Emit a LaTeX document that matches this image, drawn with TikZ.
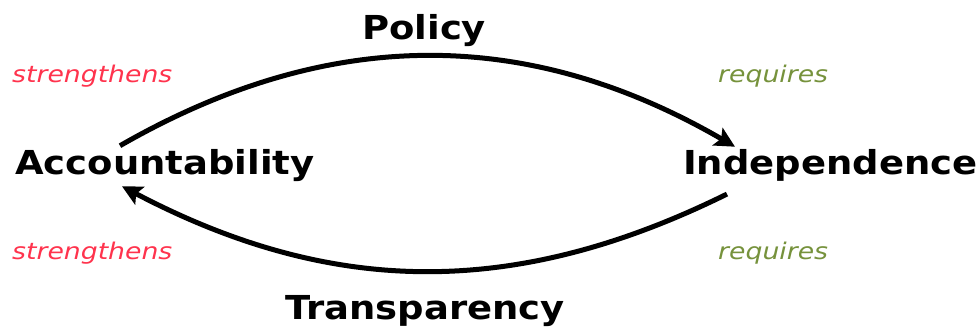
\documentclass[tikz,border=0pt]{standalone}
\usepackage{fontspec}
\setmainfont{DejaVu Sans}
\newfontfamily\termfont{DejaVu Sans}[FakeStretch=1.12]
\newfontfamily\verbfont{DejaVu Sans}[FakeStretch=1.16]
\usetikzlibrary{arrows.meta}
\definecolor{strred}{RGB}{255,51,77}
\definecolor{reqgreen}{RGB}{118,146,60}

\begin{document}
\begin{tikzpicture}[x=1pt,y=1pt,
	term/.style={font=\termfont\fontsize{33}{36}\selectfont\bfseries,inner sep=0pt,anchor=base west},
	verb/.style={font=\verbfont\fontsize{23}{26}\selectfont\itshape,inner sep=0pt,anchor=base west},
	link/.style={line width=5pt,-{Stealth[length=20pt,width=20pt,inset=4pt]}}]
	\useasboundingbox (0,0) rectangle (978,329);
	% the four terms
	\node[term] (acc) at (15,154) {Accountability};
	\node[term] (ind) at (683,154) {Independence};
	\node[term] (pol) at (362,289) {Policy};
	\node[term] (tra) at (285,9) {Transparency};
	% verbs along the cycle
	\node[verb,text=strred] (strup) at (12,246) {strengthens};
	\node[verb,text=strred] (strdn) at (12,69) {strengthens};
	\node[verb,text=reqgreen] (requp) at (718,246) {requires};
	\node[verb,text=reqgreen] (reqdn) at (718,69) {requires};
	% upper arc
	\draw[link] ([xshift=105pt,yshift=4pt]acc.north west) to[bend left=30] ([xshift=52pt,yshift=3pt]ind.north west);
	% lower arc
	\draw[link] ([xshift=44pt,yshift=-12pt]ind.south west) to[bend left=27] ([xshift=107pt,yshift=-4pt]acc.south west);
\end{tikzpicture}
\end{document}
